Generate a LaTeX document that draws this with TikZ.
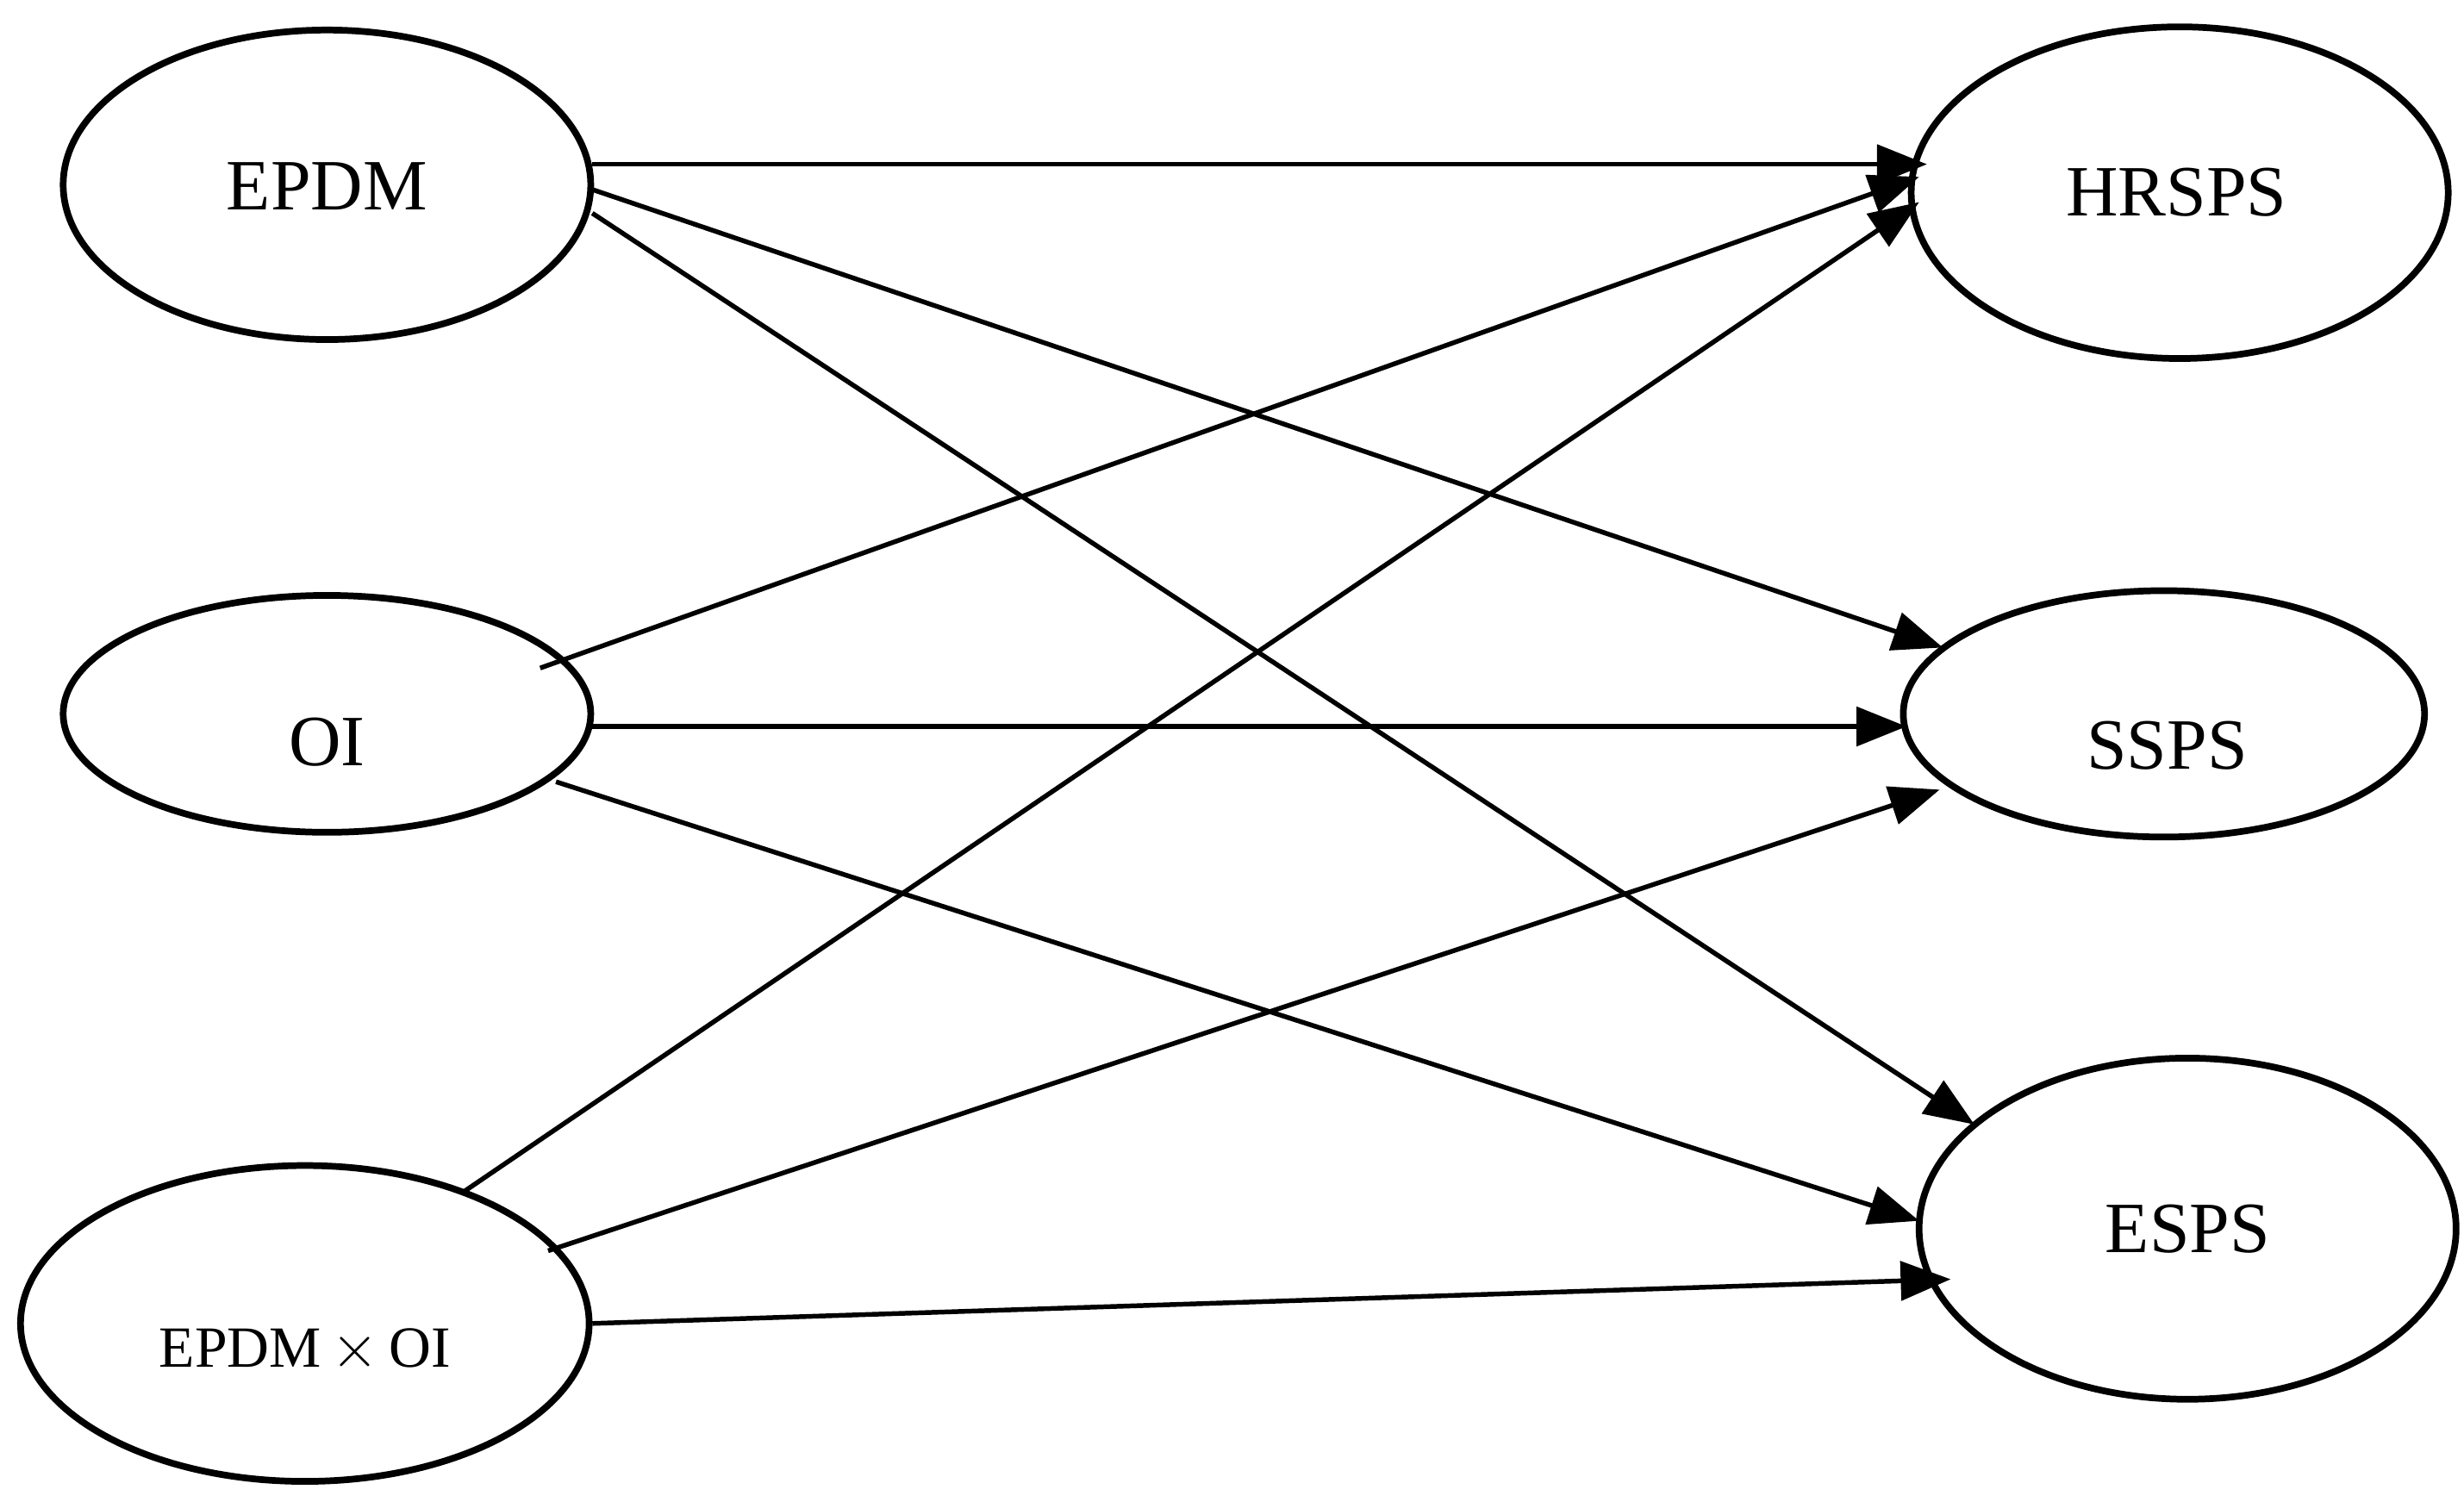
\documentclass[tikz,border=0pt]{standalone}
\usepackage{fontspec}
\setmainfont{Liberation Serif}
\usetikzlibrary{arrows.meta}
\begin{document}
\begin{tikzpicture}[x=0.01cm,y=-0.01cm,
  ell/.style={draw,line width=1.2pt,ellipse},
  lab/.style={font=\fontsize{13}{13}\selectfont},
  arr/.style={line width=0.85pt,-{Triangle[length=9pt,width=7pt]}}]
\useasboundingbox (0,0) rectangle (1560,951);
\draw[line width=1.2pt] (207,117) ellipse [x radius=167,y radius=98];
\draw[line width=1.2pt] (207,452) ellipse [x radius=167,y radius=75];
\draw[line width=1.2pt] (193,838) ellipse [x radius=180,y radius=100];
\draw[line width=1.2pt] (1380,122) ellipse [x radius=170,y radius=105];
\draw[line width=1.2pt] (1370,452) ellipse [x radius=165,y radius=78];
\draw[line width=1.2pt] (1385,778) ellipse [x radius=170,y radius=108];
\node[lab] (epdm) at (207,118) {EPDM};
\node[lab] (oi) at (207,470) {OI};
\node[lab,font=\fontsize{10.5}{10.5}\selectfont] (int) at (193,855) {EPDM$\,\times\,$OI};
\node[lab] (hr) at (1378,122) {HRSPS};
\node[lab] (ss) at (1372,472) {SSPS};
\node[lab] (es) at (1385,778) {ESPS};
\coordinate (a1) at (375,104); \coordinate (b1) at (1220,104);
\coordinate (a2) at (375,120); \coordinate (b2) at (1230,410);
\coordinate (a3) at (375,135); \coordinate (b3) at (1250,712);
\coordinate (a4) at (342,423); \coordinate (b4) at (1215,112);
\coordinate (a5) at (375,460); \coordinate (b5) at (1207,460);
\coordinate (a6) at (352,495); \coordinate (b6) at (1215,773);
\coordinate (a7) at (293,755); \coordinate (b7) at (1215,128);
\coordinate (a8) at (347,792); \coordinate (b8) at (1228,500);
\coordinate (a9) at (375,838); \coordinate (b9) at (1235,810);
\foreach \i in {1,...,9} \draw[arr] (a\i) -- (b\i);
\end{tikzpicture}
\end{document}
